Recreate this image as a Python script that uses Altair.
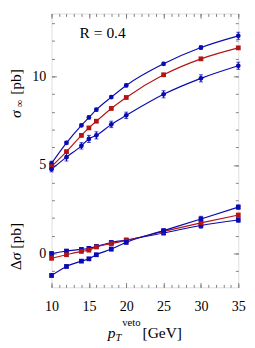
import altair as alt
import pandas as pd

# ---------------- data ----------------
pt = [10, 12, 14, 15, 16, 18, 20, 25, 30, 35]

sig_hi = [5.09, 6.25, 7.24, 7.68, 8.12, 8.83, 9.49, 10.71, 11.63, 12.29]
sig_mid = [4.91, 5.75, 6.67, 7.09, 7.47, 8.19, 8.81, 10.09, 10.99, 11.61]
sig_lo = [4.76, 5.44, 6.08, 6.47, 6.67, 7.29, 7.80, 8.99, 9.89, 10.60]

err_sig_hi = [0.12, 0.08, 0.08, 0.08, 0.08, 0.08, 0.08, 0.08, 0.10, 0.20]
err_sig_mid = [0.08, 0.08, 0.08, 0.08, 0.08, 0.08, 0.08, 0.08, 0.08, 0.08]
err_sig_lo = [0.15, 0.22, 0.18, 0.20, 0.20, 0.18, 0.18, 0.20, 0.20, 0.20]

dsig_a = [0.00, 0.14, 0.23, 0.29, 0.40, 0.62, 0.76, 1.16, 1.58, 1.89]
dsig_mid = [-0.27, -0.07, 0.12, 0.19, 0.37, 0.56, 0.74, 1.25, 1.73, 2.17]
dsig_b = [-1.24, -0.73, -0.43, -0.30, -0.07, 0.25, 0.63, 1.29, 1.95, 2.62]

err_dsig_a = [0.08, 0.08, 0.08, 0.08, 0.08, 0.10, 0.10, 0.10, 0.15, 0.12]
err_dsig_mid = [0.08, 0.08, 0.08, 0.08, 0.08, 0.08, 0.08, 0.08, 0.08, 0.10]
err_dsig_b = [0.10, 0.08, 0.08, 0.08, 0.08, 0.10, 0.10, 0.10, 0.15, 0.12]

series_names = ["sig_hi", "sig_mid", "sig_lo", "dsig_a", "dsig_mid", "dsig_b"]
series_colors = ["#0a0ab4", "#b41414", "#0a0ab4", "#0a0ab4", "#b41414", "#0a0ab4"]
series_shapes = ["circle", "square", "circle", "square", "square", "square"]

x_label_values = [10, 15, 20, 25, 30, 35]
y_label_values = [0, 5, 10]
x_minor = list(range(10, 36))
y_minor = list(range(-1, 14))
x_major = [10, 15, 20, 25, 30, 35]
y_major = [0, 5, 10]

rows = []
for name, vals, errs in [
    ("sig_hi", sig_hi, err_sig_hi),
    ("sig_mid", sig_mid, err_sig_mid),
    ("sig_lo", sig_lo, err_sig_lo),
    ("dsig_a", dsig_a, err_dsig_a),
    ("dsig_mid", dsig_mid, err_dsig_mid),
    ("dsig_b", dsig_b, err_dsig_b),
]:
    for x, v, e in zip(pt, vals, errs):
        rows.append({"pt": x, "val": v, "lo": v - e, "hi": v + e, "series": name})
df = pd.DataFrame(rows)

# ---------------- layout ----------------
W, H = 193, 283
GRAY = "#808080"
FONT = "Liberation Serif"

xsc = alt.Scale(domain=[10, 35], nice=False, zero=False)
ysc = alt.Scale(domain=[-1.91, 13.55], nice=False, zero=False)
colsc = alt.Scale(domain=series_names, range=series_colors)
shpsc = alt.Scale(domain=series_names, range=series_shapes)

x_axis = alt.Axis(values=x_label_values, ticks=False, tickSize=0, domain=False, grid=False,
                  labelFont=FONT, labelFontSize=14.5, labelColor="black", labelPadding=13,
                  labelFlush=False, labelOverlap=False, labelAngle=0, title=None)
y_axis = alt.Axis(values=y_label_values, ticks=False, tickSize=0, domain=False, grid=False,
                  labelFont=FONT, labelFontSize=14.5, labelColor="black", labelPadding=6,
                  labelOverlap=False, title=None)

base = alt.Chart(df)
X = alt.X("pt:Q", scale=xsc, axis=x_axis)
Y = alt.Y("val:Q", scale=ysc, axis=y_axis)
C = alt.Color("series:N", scale=colsc, legend=None)

lines = base.mark_line(strokeWidth=1.2, interpolate="monotone").encode(
    x=X, y=Y, color=C, detail="series:N")
errbars = base.mark_errorbar(ticks=True, thickness=1.1, size=4).encode(
    x=X, y=alt.Y("lo:Q", scale=ysc, axis=y_axis), y2="hi:Q", color=C)
points = base.mark_point(filled=True, opacity=1, size=24).encode(
    x=X, y=Y, color=C, shape=alt.Shape("series:N", scale=shpsc, legend=None))

one = alt.Chart(pd.DataFrame({"k": [0]}))


def label(text, x, y, size=16, style="normal", angle=0):
    return one.mark_text(text=text, font=FONT, fontSize=size, fontStyle=style,
                         align="left", baseline="alphabetic", angle=angle,
                         color="black").encode(x=alt.value(x), y=alt.value(y))


texts = [
    label("R = 0.4", 29, 25),
    # y title (upper): sigma_infinity [pb]
    label("σ", -32, 108, style="italic", angle=270),
    label("∞", -29, 97, size=11, angle=270),
    label("[pb]", -32, 84, angle=270),
    # y title (lower): Delta sigma [pb]
    label("Δ", -32, 265, angle=270),
    label("σ", -32, 255, style="italic", angle=270),
    label("[pb]", -32, 243, angle=270),
    # x title: p_T^veto [GeV]
    label("p", 58, 335, style="italic"),
    label("T", 66, 338, size=11, style="italic"),
    label("veto", 73, 323, size=11),
    label("[GeV]", 94, 335),
]

main = alt.layer(lines, errbars, points, *texts)


def tick_layer(xorient, xoff, yorient, yoff, xvals, yvals, size):
    return base.mark_point(opacity=0).encode(
        x=alt.X("pt:Q", scale=xsc, axis=alt.Axis(
            orient=xorient, offset=xoff, values=xvals, labels=False, domain=False,
            ticks=True, tickSize=size, tickColor=GRAY, tickWidth=1, grid=False, title=None)),
        y=alt.Y("val:Q", scale=ysc, axis=alt.Axis(
            orient=yorient, offset=yoff, values=yvals, labels=False, domain=False,
            ticks=True, tickSize=size, tickColor=GRAY, tickWidth=1, grid=False, title=None)),
    )


t1 = tick_layer("top", -H, "right", -W, x_minor, y_minor, 3)
t2 = tick_layer("bottom", -H, "left", -W, x_minor, y_minor, 3)
t3 = tick_layer("top", -H, "right", -W, x_major, y_major, 5)
t4 = tick_layer("bottom", -H, "left", -W, x_major, y_major, 5)

chart = alt.layer(main, t1, t2, t3, t4).resolve_scale(
    x="independent", y="independent"
).properties(
    width=W, height=H,
    autosize=alt.AutoSizeParams(type="none"),
    padding={"left": 45, "top": 0, "right": 9, "bottom": 57},
).configure_view(stroke=GRAY, strokeWidth=1).configure(background="white")

chart.save("out.html", embed_options={"renderer": "svg", "actions": False})
